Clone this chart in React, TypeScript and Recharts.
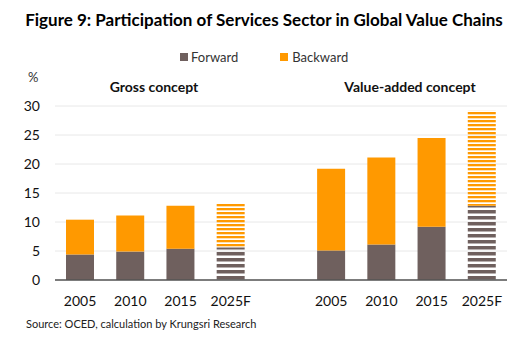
import { BarChart, Bar, XAxis, YAxis, CartesianGrid, Cell } from "recharts";

const years = ["2005", "2010", "2015", "2025F", "", "2005", "2010", "2015", "2025F"];
const forward = [4.4, 4.9, 5.4, 5.6, null, 5.1, 6.1, 9.2, 12.8];
const backward = [6.0, 6.2, 7.4, 7.6, null, 14.1, 15.0, 15.3, 16.4];
const forecast = [false, false, false, true, false, false, false, false, true];
const yTicks = [0, 5, 10, 15, 20, 25, 30];

const FWD = "#6F605E";
const BWD = "#FF9900";

const data = years.map((y, i) => ({
  id: i,
  year: y,
  forward: forward[i],
  backward: backward[i],
}));

const font = "Lato, 'Open Sans', sans-serif";

const App = () => {
  return (
    <div style={{ position: "absolute", left: 0, top: 0, width: 528, height: 348, background: "#fff", fontFamily: font }}>
      <div style={{ position: "absolute", left: 0, width: 528, top: 9, textAlign: "center", fontSize: 17, fontWeight: 700, color: "#000" }}>
        Figure 9: Participation of Services Sector in Global Value Chains
      </div>
      <div style={{ position: "absolute", left: 180, top: 49, height: 16, lineHeight: "16px", fontSize: 13, color: "#333", display: "flex", alignItems: "center" }}>
        <span style={{ width: 8, height: 8, background: FWD, display: "inline-block", marginRight: 3 }} />
        <span>Forward</span>
        <span style={{ width: 8, height: 8, background: BWD, display: "inline-block", marginLeft: 42, marginRight: 4 }} />
        <span>Backward</span>
      </div>
      <div style={{ position: "absolute", left: 28, top: 69, fontSize: 13, color: "#333" }}>%</div>
      <div style={{ position: "absolute", left: 54, width: 200, top: 78, textAlign: "center", fontSize: 14, fontWeight: 700, color: "#111" }}>
        Gross concept
      </div>
      <div style={{ position: "absolute", left: 310, width: 200, top: 78, textAlign: "center", fontSize: 14, fontWeight: 700, color: "#111" }}>
        Value-added concept
      </div>
      <BarChart width={528} height={348} data={data} margin={{ top: 106, right: 21, bottom: 37, left: 25 }} barSize={28}>
        <defs>
          <pattern id="fwdStripe" width="8" height="6" patternUnits="userSpaceOnUse">
            <rect x="0" y="0" width="8" height="3.5" fill={FWD} />
          </pattern>
          <pattern id="bwdStripe" width="8" height="4" patternUnits="userSpaceOnUse">
            <rect x="0" y="0" width="8" height="2.3" fill={BWD} />
          </pattern>
        </defs>
        <CartesianGrid vertical={false} stroke="#E8E8E8" />
        <XAxis
          dataKey="id"
          tickFormatter={(v) => years[v]}
          height={31}
          tickSize={0}
          tickMargin={16}
          axisLine={{ stroke: "#555", strokeWidth: 1.5 }}
          tick={{ fill: "#111", fontSize: 14, fontFamily: font }}
          interval={0}
        />
        <YAxis
          width={30}
          domain={[0, 30]}
          ticks={yTicks}
          axisLine={false}
          tickLine={false}
          tickSize={0}
          tickMargin={15}
          tick={{ fill: "#111", fontSize: 14, fontFamily: font }}
        />
        <Bar dataKey="forward" name="Forward" stackId="a" fill={FWD} isAnimationActive={false}>
          {data.map((d, i) => (
            <Cell key={i} fill={forecast[i] ? "url(#fwdStripe)" : FWD} />
          ))}
        </Bar>
        <Bar dataKey="backward" name="Backward" stackId="a" fill={BWD} isAnimationActive={false}>
          {data.map((d, i) => (
            <Cell key={i} fill={forecast[i] ? "url(#bwdStripe)" : BWD} />
          ))}
        </Bar>
      </BarChart>
      <div style={{ position: "absolute", left: 26, top: 317, fontSize: 11, color: "#222" }}>
        Source: OCED, calculation by Krungsri Research
      </div>
    </div>
  );
};

export default App;
